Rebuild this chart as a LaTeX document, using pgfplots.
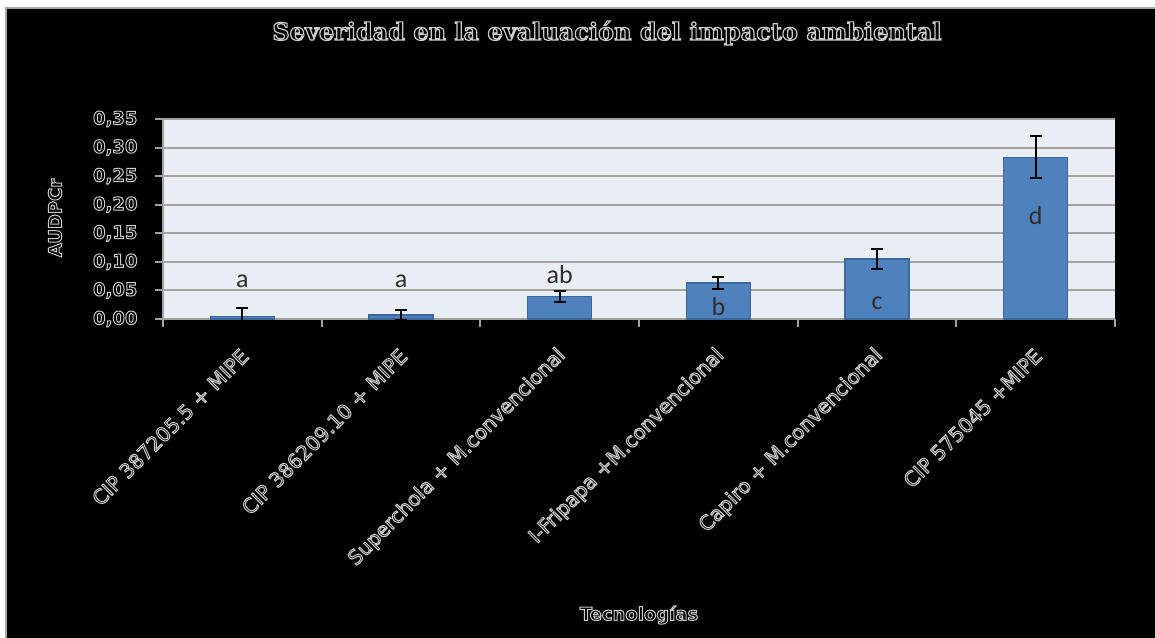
\documentclass[border=0pt]{standalone}
\usepackage{pgfplots}
\pgfplotsset{compat=1.18}
\usepackage{fontspec}
\setmainfont{DejaVu Sans}
\newfontfamily\djs{DejaVu Sans}
\newfontfamily\djserif{DejaVu Serif}
\newfontfamily\carlito{Carlito}
\definecolor{plotbg}{HTML}{E9EDF4}
\definecolor{gridgray}{HTML}{A3A3A3}
\definecolor{axgray}{HTML}{A0A0A0}
\definecolor{barfill}{HTML}{4F81BD}
\definecolor{bardraw}{HTML}{3A679E}
\definecolor{lettc}{HTML}{2E2E2E}
\newcommand\outl[2][1.0]{{\color{black}\special{pdf:literal 2 Tr #1 w 0.8 G}#2\special{pdf:literal 0 Tr 1 w}}}
\pgfplotstableread{
x y err
0 0.004 0.015
1 0.007 0.009
2 0.039 0.010
3 0.063 0.011
4 0.105 0.017
5 0.283 0.037
}\datatab
\begin{document}
\begin{tikzpicture}[x=1pt,y=1pt]
\useasboundingbox (0,0) rectangle (1155,637);
\fill[white] (0,0) rectangle (1155,637);
\begin{scope}
\clip (0,0) rectangle (1155,637);
\draw[fill=black, draw=gray!70, line width=2pt] (6,-10) rectangle (1170,629);
\end{scope}
\begin{axis}[
  at={(163pt,318pt)}, anchor=south west,
  width=952pt, height=200pt, scale only axis,
  xmin=-0.5, xmax=5.5, ymin=0, ymax=0.35,
  axis background/.style={fill=plotbg},
  axis x line*=bottom, axis y line*=left,
  axis line style={draw=axgray, line width=2pt},
  ytick={0,0.05,0.10,0.15,0.20,0.25,0.30,0.35},
  ymajorgrids,
  major grid style={draw=gridgray, line width=2pt},
  tick style={draw=axgray, line width=2pt},
  tick align=outside, major tick length=8pt,
  /pgf/number format/assume math mode=true,
  yticklabel={\outl{\pgfmathprintnumber[fixed,fixed zerofill,precision=2,use comma]{\tick}}},
  yticklabel style={font=\djs\bfseries\fontsize{18}{18}\selectfont, xshift=-14pt},
  xtick={-0.5,0.5,1.5,2.5,3.5,4.5,5.5},
  xticklabels={},
  extra x ticks={0,1,2,3,4,5},
  extra x tick labels={
    \outl{CIP 387205.5 + MIPE},
    \outl{CIP 386209.10 + MIPE},
    \outl{Superchola + M.convencional},
    \outl{I-Fripapa +M.convencional},
    \outl{Capiro + M.convencional},
    \outl{CIP 575045 +MIPE}},
  extra x tick style={major tick length=0pt,
    xticklabel style={font=\djs\fontsize{20}{20}\selectfont, xshift=5pt, yshift=-31pt, rotate=45, anchor=east}},
  clip=false,
]
\addplot[ybar, bar width=64pt, fill=barfill, draw=bardraw, line width=1.5pt,
  error bars/.cd, y dir=both, y explicit,
  error bar style={black, line width=2pt},
  error mark options={black, line width=2pt, mark size=6pt, rotate=90}]
  table[x=x, y=y, y error=err] {\datatab};
\node[font=\carlito\fontsize{26}{26}\selectfont, text=lettc] at (axis cs:0,0.066) {a};
\node[font=\carlito\fontsize{26}{26}\selectfont, text=lettc] at (axis cs:1,0.066) {a};
\node[font=\carlito\fontsize{26}{26}\selectfont, text=lettc] at (axis cs:2,0.078) {ab};
\node[font=\carlito\fontsize{26}{26}\selectfont, text=lettc] at (axis cs:3,0.022) {b};
\node[font=\carlito\fontsize{26}{26}\selectfont, text=lettc] at (axis cs:4,0.027) {c};
\node[font=\carlito\fontsize{26}{26}\selectfont, text=lettc] at (axis cs:5,0.181) {d};
\end{axis}
\node[rotate=90, font=\djs\bfseries\fontsize{18}{18}\selectfont] at (55,419) {\outl{AUDPCr}};
\node[font=\djs\bfseries\fontsize{18}{18}\selectfont] at (639,22) {\outl{Tecnologías}};
\node[font=\djserif\bfseries\fontsize{24}{24}\selectfont] at (607,604) {\outl[1.2]{Severidad en la evaluación del impacto ambiental}};
\end{tikzpicture}
\end{document}
